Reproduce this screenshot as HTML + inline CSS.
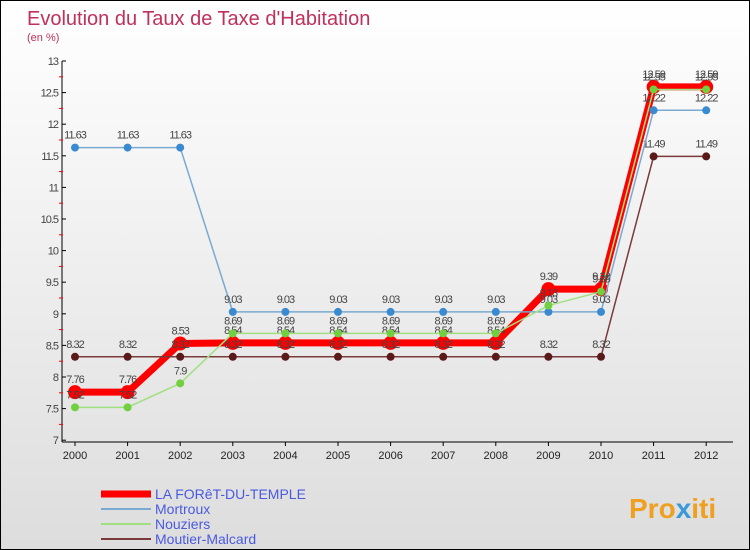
<!DOCTYPE html>
<html><head><meta charset="utf-8"><style>
body{margin:0}
#c{width:748px;height:548px;border:1px solid #000;background:linear-gradient(#fff,#ddd);position:relative;font-family:"Liberation Sans",sans-serif;overflow:hidden}
</style></head><body>
<div id="c">
<svg id="s" width="748" height="548">
<text x="26" y="24" font-size="20" fill="#c0305a">Evolution du Taux de Taxe d'Habitation</text>
<text x="26" y="40" font-size="11" fill="#c0305a">(en %)</text>
<text x="628" y="517" font-size="28" font-weight="bold" fill="#f0a020">Pro<tspan fill="#3a9ad9">x</tspan>iti</text>
</svg>
</div>
<script>
const years=[2000,2001,2002,2003,2004,2005,2006,2007,2008,2009,2010,2011,2012];
const yTicks=[7,7.5,8,8.5,9,9.5,10,10.5,11,11.5,12,12.5,13];
const laForet=[7.76,7.76,8.53,8.54,8.54,8.54,8.54,8.54,8.54,9.39,9.39,12.59,12.59];
const mortroux=[11.63,11.63,11.63,9.03,9.03,9.03,9.03,9.03,9.03,9.03,9.03,12.22,12.22];
const nouziers=[7.52,7.52,7.9,8.69,8.69,8.69,8.69,8.69,8.69,9.13,9.35,12.55,12.55];
const moutier=[8.32,8.32,8.32,8.32,8.32,8.32,8.32,8.32,8.32,8.32,8.32,11.49,11.49];
const names=["LA FORêT-DU-TEMPLE","Mortroux","Nouziers","Moutier-Malcard"];
const s=document.getElementById('s');const NS='http://www.w3.org/2000/svg';
const X=i=>74+i*52.6, Y=v=>60+(13-v)*63.2;
function mk(t,a,p){const e=document.createElementNS(NS,t);for(const k in a)e.setAttribute(k,a[k]);(p||s).appendChild(e);return e;}
let ax=mk('line',{x1:61,y1:60,x2:61,y2:441,stroke:'#000'});


let bx=mk('line',{x1:61,y1:441,x2:732,y2:441,stroke:'#000'});


yTicks.forEach(v=>{mk('line',{x1:61,x2:65,y1:Y(v),y2:Y(v),stroke:'#000'});
if(v<13)mk('line',{x1:58,x2:62,y1:Y(v+0.25),y2:Y(v+0.25),stroke:'#f00'});
const t=mk('text',{x:57,y:Y(v)+4,'font-size':11,fill:'#444','text-anchor':'end','letter-spacing':'-1'});t.textContent=v;

});
years.forEach((y,i)=>{mk('line',{x1:X(i),x2:X(i),y1:441,y2:445,stroke:'#000'});
const t=mk('text',{x:X(i),y:458,'font-size':11,fill:'#222','text-anchor':'middle'});t.textContent=y;

});
const series=[[laForet,'#f00','#f00',7,7],[moutier,'#7a3a3a','#5a1a1a',1.5,4],[mortroux,'#7aaad0','#3a8ad0',1.5,4],[nouziers,'#a0e080','#70d040',1.5,4]];
const order=[0,3,1,2];
series.forEach((sr,k)=>{const [d,c,mc,w,r]=sr;
const g=mk('g',{});
mk('polyline',{points:d.map((v,i)=>X(i)+','+Y(v)).join(' '),fill:'none',stroke:c,'stroke-width':w},g);
d.forEach((v,i)=>{const p=mk('circle',{cx:X(i),cy:Y(v),r:r,fill:mc},g);


const t=mk('text',{x:X(i),y:Y(v)-9,'font-size':11,fill:'#444','text-anchor':'middle','letter-spacing':'-1'},g);t.textContent=v;});});
const lc=['#f00','#7aaad0','#a0e080','#7a3a3a'],lw=[7,2,2,2];
names.forEach((n,i)=>{const y=493+i*15;
const l=mk('line',{x1:100,x2:150,y1:y,y2:y,stroke:lc[i],'stroke-width':lw[i]});


const t=mk('text',{x:154,y:y+5,'font-size':14,fill:'#4a5ae0'});t.textContent=n;

});
</script>
</body></html>
